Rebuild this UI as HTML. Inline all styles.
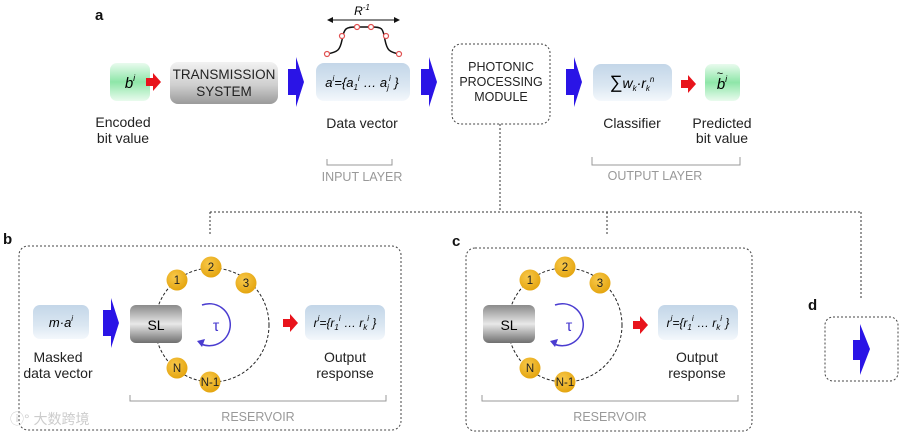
<!DOCTYPE html>
<html><head><meta charset="utf-8"><style>
html,body{margin:0;padding:0;background:#fff;}
svg{display:block;font-family:"Liberation Sans","Noto Sans CJK SC",sans-serif;}
</style></head><body>
<svg width="900" height="434" viewBox="0 0 900 434" xmlns="http://www.w3.org/2000/svg">
<defs>
<linearGradient id="gr" x1="0" y1="0" x2="0" y2="1"><stop offset="0" stop-color="#e9fbee"/><stop offset=".5" stop-color="#8ee6a8"/><stop offset="1" stop-color="#e9fbee"/></linearGradient>
<linearGradient id="gy" x1="0" y1="0" x2="0" y2="1"><stop offset="0" stop-color="#f2f2f2"/><stop offset=".55" stop-color="#cfcfcf"/><stop offset="1" stop-color="#9a9a9a"/></linearGradient>
<linearGradient id="bl" x1="0" y1="0" x2="0" y2="1"><stop offset="0" stop-color="#c3d6e8"/><stop offset=".6" stop-color="#dbe7f2"/><stop offset="1" stop-color="#f4f8fc"/></linearGradient>
<linearGradient id="sl" x1="0" y1="0" x2="0" y2="1"><stop offset="0" stop-color="#8a8a8a"/><stop offset=".5" stop-color="#e8e8e8"/><stop offset="1" stop-color="#6f6f6f"/></linearGradient>
<radialGradient id="or" cx=".4" cy=".35" r=".7"><stop offset="0" stop-color="#f8c84a"/><stop offset="1" stop-color="#e3a30c"/></radialGradient>
<g id="barrow"><polygon points="0,12 8,12 8,0 16,25 8,50 8,38 0,38" fill="#2a14e6"/></g>
<g id="rarrow"><polygon points="0,-4 7,-4 7,-9 15,0 7,9 7,4 0,4" fill="#e8141c"/></g>
</defs>
<g font-weight="bold" font-size="15" fill="#111"><text x="95" y="20">a</text><text x="3" y="244">b</text><text x="452" y="246">c</text><text x="808" y="310">d</text></g>

<!-- top row -->
<rect x="110" y="63" width="40" height="38" rx="7" fill="url(#gr)"/>
<text x="130" y="88" font-size="15" font-style="italic" text-anchor="middle">b<tspan font-size="9" dy="-7">i</tspan></text>
<use href="#rarrow" x="146" y="82"/>
<rect x="170" y="62" width="108" height="42" rx="8" fill="url(#gy)"/>
<text x="224" y="79" font-size="13.5" text-anchor="middle" fill="#222">TRANSMISSION</text>
<text x="224" y="96" font-size="13.5" text-anchor="middle" fill="#222">SYSTEM</text>
<use href="#barrow" x="288" y="57"/>
<rect x="316" y="63" width="94" height="38" rx="8" fill="url(#bl)"/>
<text x="362" y="87" font-size="13" font-style="italic" text-anchor="middle">a<tspan font-size="8" dy="-6">i</tspan><tspan dy="6">={a</tspan><tspan font-size="8" dy="3">1</tspan><tspan font-size="8" dy="-9">i</tspan><tspan dy="6"> … a</tspan><tspan font-size="8" dy="3">j</tspan><tspan font-size="8" dy="-9">i</tspan><tspan dy="6"> }</tspan></text>
<use href="#barrow" x="421" y="57"/>
<rect x="452" y="44" width="98" height="80" rx="9" fill="none" stroke="#444" stroke-dasharray="2,2"/>
<text x="501" y="71" font-size="12.5" text-anchor="middle" fill="#222">PHOTONIC</text>
<text x="501" y="86" font-size="12.5" text-anchor="middle" fill="#222">PROCESSING</text>
<text x="501" y="101" font-size="12.5" text-anchor="middle" fill="#222">MODULE</text>
<use href="#barrow" x="566" y="57"/>
<rect x="593" y="64" width="79" height="37" rx="8" fill="url(#bl)"/>
<text x="632" y="88" font-size="14" font-style="italic" text-anchor="middle"><tspan font-style="normal" font-size="18">∑</tspan>w<tspan font-size="8" dy="3">k</tspan><tspan dy="-3">·r</tspan><tspan font-size="8" dy="3">k</tspan><tspan font-size="8" dy="-9">n</tspan></text>
<use href="#rarrow" x="681" y="84"/>
<rect x="705" y="64" width="35" height="37" rx="7" fill="url(#gr)"/>
<text x="722" y="89" font-size="15" font-style="italic" text-anchor="middle">b<tspan font-size="9" dy="-7">i</tspan></text>
<text x="720" y="77" font-size="11" text-anchor="middle">~</text>

<g font-size="14" fill="#222" text-anchor="middle">
<text x="123" y="127">Encoded</text><text x="123" y="143">bit value</text>
<text x="362" y="128">Data vector</text>
<text x="632" y="128">Classifier</text>
<text x="722" y="128">Predicted</text><text x="722" y="143">bit value</text>
</g>
<g stroke="#999" fill="none"><path d="M327,159v6h65v-6"/><path d="M592,157v8h148v-8"/></g>
<g font-size="12.5" fill="#999" text-anchor="middle"><text x="362" y="181">INPUT LAYER</text><text x="655" y="180">OUTPUT LAYER</text></g>

<!-- R^-1 -->
<path d="M329,20H398" stroke="#111"/><polygon points="327,20 333,17 333,23" fill="#111"/><polygon points="400,20 394,17 394,23" fill="#111"/>
<text x="362" y="15" font-size="12" font-style="italic" text-anchor="middle">R<tspan font-size="8" dy="-5">-1</tspan></text>
<path d="M327,54 C338,52 340,50 342,40 C344,28 346,27 356,27 L372,27 C382,27 383,28 385,40 C387,50 389,52 399,54" stroke="#111" stroke-width="1.5" fill="none"/>
<g fill="#fff" stroke="#e05050" stroke-width="1.2"><circle cx="327" cy="54" r="2.5"/><circle cx="342" cy="36" r="2.5"/><circle cx="357" cy="27" r="2.5"/><circle cx="371" cy="27" r="2.5"/><circle cx="386" cy="36" r="2.5"/><circle cx="399" cy="54" r="2.5"/></g>

<!-- tree -->
<g stroke="#333" stroke-dasharray="2,2" fill="none"><path d="M500,124V212M210,212H861M210,212V236M607,212V234M861,212V300"/></g>

<!-- panel b -->
<rect x="19" y="246" width="382" height="184" rx="9" fill="none" stroke="#444" stroke-dasharray="2,2"/>
<rect x="33" y="305" width="56" height="34" rx="7" fill="url(#bl)"/>
<text x="61" y="327" font-size="13" font-style="italic" text-anchor="middle">m·a<tspan font-size="8" dy="-6">i</tspan></text>
<use href="#barrow" x="103" y="298"/>
<circle cx="212" cy="325" r="57" fill="none" stroke="#222" stroke-dasharray="3,2"/>
<rect x="130" y="305" width="52" height="38" rx="6" fill="url(#sl)"/>
<text x="156" y="330" font-size="14" text-anchor="middle">SL</text>
<path d="M202,305 A21,21 0 1 1 201,344" stroke="#4a3cd0" stroke-width="1.5" fill="none"/><polygon points="197,341 205,339 202,347" fill="#4a3cd0"/>
<text x="216" y="331" font-size="16" fill="#4a3cd0" text-anchor="middle">τ</text>
<g fill="url(#or)"><circle cx="177" cy="280" r="10.5"/><circle cx="211" cy="267" r="10.5"/><circle cx="246" cy="283" r="10.5"/><circle cx="177" cy="368" r="10.5"/><circle cx="210" cy="382" r="10.5"/></g>
<g font-size="11.5" text-anchor="middle" fill="#222"><text x="177" y="284">1</text><text x="211" y="271">2</text><text x="246" y="287">3</text><text x="177" y="372">N</text><text x="210" y="386">N-1</text></g>
<use href="#rarrow" x="283" y="323"/>
<rect x="305" y="305" width="80" height="35" rx="7" fill="url(#bl)"/>
<text x="345" y="327" font-size="12" font-style="italic" text-anchor="middle">r<tspan font-size="8" dy="-6">i</tspan><tspan dy="6">={r</tspan><tspan font-size="8" dy="3">1</tspan><tspan font-size="8" dy="-9">i</tspan><tspan dy="6"> … r</tspan><tspan font-size="8" dy="3">k</tspan><tspan font-size="8" dy="-9">i</tspan><tspan dy="6"> }</tspan></text>
<g font-size="14" fill="#222" text-anchor="middle"><text x="58" y="362">Masked</text><text x="58" y="378">data vector</text><text x="345" y="362">Output</text><text x="345" y="378">response</text></g>
<path d="M130,395v6h256v-6" stroke="#999" fill="none"/>
<text x="258" y="421" font-size="12.5" fill="#999" text-anchor="middle">RESERVOIR</text>
<text x="10" y="424" font-size="14" fill="#ccc">ⓘ° 大数跨境</text>

<!-- panel c -->
<rect x="466" y="248" width="286" height="183" rx="9" fill="none" stroke="#444" stroke-dasharray="2,2"/>
<circle cx="565" cy="325" r="57" fill="none" stroke="#222" stroke-dasharray="3,2"/>
<rect x="483" y="305" width="52" height="38" rx="6" fill="url(#sl)"/>
<text x="509" y="330" font-size="14" text-anchor="middle">SL</text>
<path d="M555,305 A21,21 0 1 1 554,344" stroke="#4a3cd0" stroke-width="1.5" fill="none"/><polygon points="550,341 558,339 555,347" fill="#4a3cd0"/>
<text x="569" y="331" font-size="16" fill="#4a3cd0" text-anchor="middle">τ</text>
<g fill="url(#or)"><circle cx="530" cy="280" r="10.5"/><circle cx="565" cy="267" r="10.5"/><circle cx="600" cy="283" r="10.5"/><circle cx="530" cy="368" r="10.5"/><circle cx="565" cy="382" r="10.5"/></g>
<g font-size="11.5" text-anchor="middle" fill="#222"><text x="530" y="284">1</text><text x="565" y="271">2</text><text x="600" y="287">3</text><text x="530" y="372">N</text><text x="565" y="386">N-1</text></g>
<use href="#rarrow" x="633" y="325"/>
<rect x="658" y="305" width="80" height="35" rx="7" fill="url(#bl)"/>
<text x="698" y="327" font-size="12" font-style="italic" text-anchor="middle">r<tspan font-size="8" dy="-6">i</tspan><tspan dy="6">={r</tspan><tspan font-size="8" dy="3">1</tspan><tspan font-size="8" dy="-9">i</tspan><tspan dy="6"> … r</tspan><tspan font-size="8" dy="3">k</tspan><tspan font-size="8" dy="-9">i</tspan><tspan dy="6"> }</tspan></text>
<g font-size="14" fill="#222" text-anchor="middle"><text x="697" y="362">Output</text><text x="697" y="378">response</text></g>
<path d="M482,395v6h256v-6" stroke="#999" fill="none"/>
<text x="610" y="421" font-size="12.5" fill="#999" text-anchor="middle">RESERVOIR</text>

<!-- panel d -->
<rect x="825" y="317" width="73" height="64" rx="8" fill="none" stroke="#444" stroke-dasharray="2,2"/>
<polygon points="853,340 860,340 860,324 870,349 860,375 860,360 853,360" fill="#2a14e6"/>
</svg>
</body></html>
